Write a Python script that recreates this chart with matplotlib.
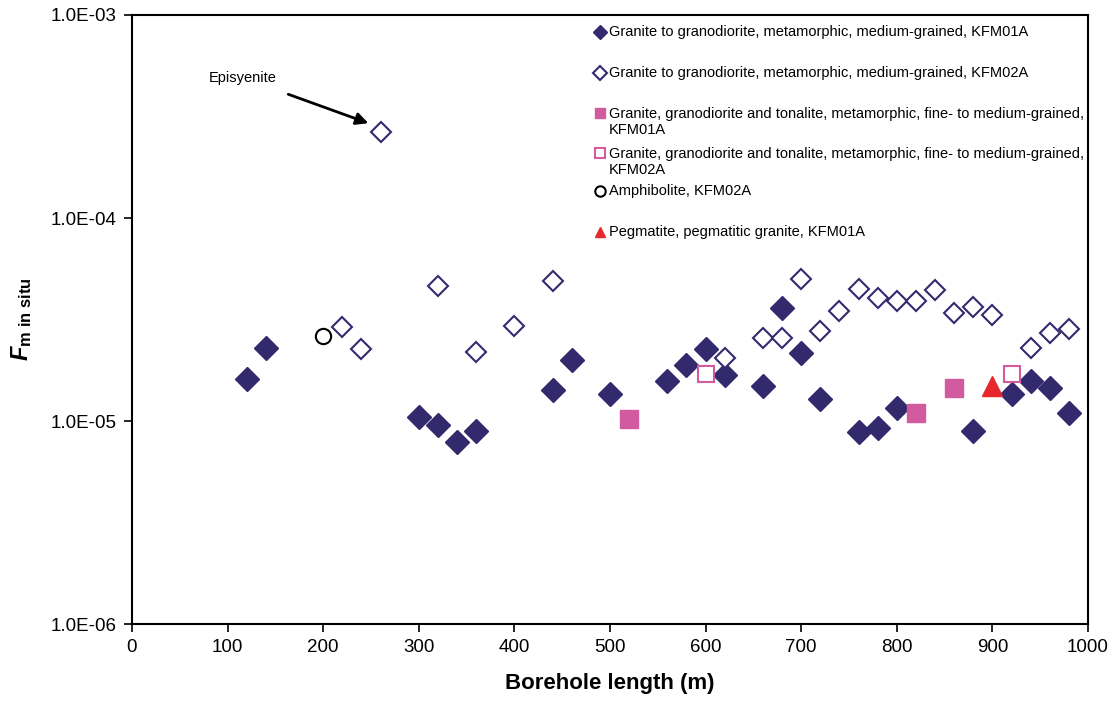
import matplotlib as mpl
import matplotlib.pyplot as plt

mpl.rcParams.update({'font.family': 'Liberation Sans',
                     'mathtext.fontset': 'custom',
                     'mathtext.rm': 'Liberation Sans',
                     'mathtext.bf': 'Liberation Sans:bold',
                     'mathtext.it': 'Liberation Sans:italic:bold'})

### data
# granite to granodiorite, KFM01A
g01_x = [120, 140, 300, 320, 340, 360, 440, 460, 500, 560, 580, 600, 620, 660, 680,
         700, 720, 760, 780, 800, 880, 920, 940, 960, 980]
g01_y = [1.61e-5, 2.29e-5, 1.05e-5, 9.55e-6, 7.9e-6, 8.9e-6, 1.42e-5, 2.0e-5, 1.36e-5,
         1.57e-5, 1.89e-5, 2.27e-5, 1.69e-5, 1.49e-5, 3.61e-5, 2.16e-5, 1.28e-5,
         8.8e-6, 9.25e-6, 1.16e-5, 8.9e-6, 1.36e-5, 1.57e-5, 1.46e-5, 1.09e-5]
# granite to granodiorite, KFM02A
g02_x = [220, 240, 260, 320, 360, 400, 440, 620, 660, 680, 700, 720, 740, 760, 780,
         800, 820, 840, 860, 880, 900, 940, 960, 980]
g02_y = [2.90e-5, 2.27e-5, 2.65e-4, 4.62e-5, 2.19e-5, 2.94e-5, 4.9e-5, 2.04e-5, 2.56e-5,
         2.56e-5, 5.01e-5, 2.77e-5, 3.48e-5, 4.47e-5, 4.04e-5, 3.92e-5, 3.92e-5,
         4.42e-5, 3.39e-5, 3.66e-5, 3.33e-5, 2.30e-5, 2.70e-5, 2.84e-5]
# granite, granodiorite and tonalite
t01_x = [520, 820, 860]
t01_y = [1.02e-5, 1.10e-5, 1.45e-5]
t02_x = [600, 920]
t02_y = [1.70e-5, 1.70e-5]
# amphibolite KFM02A
amph_x = [200]
amph_y = [2.62e-5]
# pegmatite KFM01A
peg_x = [900]
peg_y = [1.48e-5]

labels = ['Granite to granodiorite, metamorphic, medium-grained, KFM01A',
          'Granite to granodiorite, metamorphic, medium-grained, KFM02A',
          'Granite, granodiorite and tonalite, metamorphic, fine- to medium-grained,\nKFM01A',
          'Granite, granodiorite and tonalite, metamorphic, fine- to medium-grained,\nKFM02A',
          'Amphibolite, KFM02A',
          'Pegmatite, pegmatitic granite, KFM01A']

navy = '#332a6e'
pink = '#d25a9e'
red = '#e6282d'

styles = [dict(marker='D', ms=12, mfc=navy, mec=navy, mew=1),
          dict(marker='D', ms=10.5, mfc='white', mec=navy, mew=1.5),
          dict(marker='s', ms=13, mfc=pink, mec=pink, mew=1),
          dict(marker='s', ms=12, mfc='white', mec=pink, mew=1.5),
          dict(marker='o', ms=11, mfc='white', mec='black', mew=1.5),
          dict(marker='^', ms=14, mfc=red, mec=red, mew=1)]
series = [(g01_x, g01_y), (g02_x, g02_y), (t01_x, t01_y), (t02_x, t02_y),
          (amph_x, amph_y), (peg_x, peg_y)]

fig = plt.figure(figsize=(11.11, 7.04), dpi=100)
ax = fig.add_axes([0.1188, 0.1136, 0.8605, 0.8651])

for (x, y), st in zip(series, styles):
    ax.plot(x, y, ls='none', **st)

ax.set_yscale('log')
ax.set_ylim(1e-6, 1e-3)
ax.set_xlim(0, 1000)
ax.set_xticks(range(0, 1001, 100))
ax.set_yticks([1e-6, 1e-5, 1e-4, 1e-3])
ax.set_yticklabels(['1.0E-06', '1.0E-05', '1.0E-04', '1.0E-03'])
ax.yaxis.set_minor_locator(mpl.ticker.NullLocator())
ax.tick_params(labelsize=13.5, direction='out', length=6, width=1.2, pad=5)
for s in ax.spines.values():
    s.set_linewidth(1.5)

ax.set_xlabel('Borehole length (m)', fontsize=16, fontweight='bold', labelpad=12)
ax.set_ylabel(r'$\mathit{F}_{\mathbf{m\ in\ situ}}$', fontsize=17, labelpad=12)

ax.annotate('Episyenite', xy=(250, 2.9e-4), xytext=(116, 4.9e-4),
            fontsize=10.5, ha='center', va='center',
            arrowprops=dict(arrowstyle='-|>', lw=2, color='black',
                            mutation_scale=18, shrinkA=14, shrinkB=2))

# legend drawn by hand (Excel-style spacing, marker on first line)
leg_y = [0.972, 0.905, 0.839, 0.773, 0.711, 0.644]
for lab, st, yy in zip(labels, styles, leg_y):
    st2 = dict(st)
    st2['ms'] = 7.5
    ax.plot([0.49], [yy], transform=ax.transAxes, ls='none', clip_on=False, **st2)
    if '\n' in lab:
        ax.text(0.4985, yy + 0.0095, lab, transform=ax.transAxes, fontsize=10.5,
                va='top', linespacing=1.12)
    else:
        ax.text(0.4985, yy, lab, transform=ax.transAxes, fontsize=10.5, va='center')

fig.savefig('out.png', dpi=100)
